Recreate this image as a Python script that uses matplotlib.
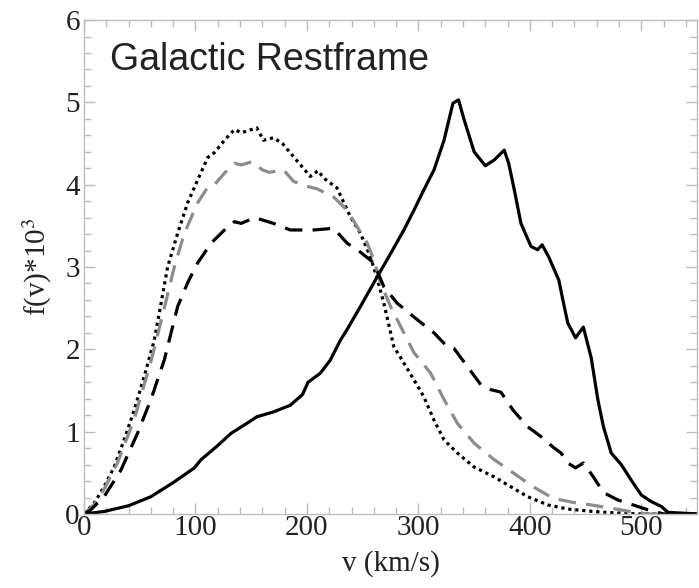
import numpy as np
import matplotlib
matplotlib.use("Agg")
import matplotlib.pyplot as plt
from matplotlib.ticker import MultipleLocator

plt.rcParams["mathtext.fontset"] = "stix"

# Speed distributions in the galactic rest frame, f(v) in units of 1e-3
v_solid = [0, 18, 40, 60, 81, 99, 105, 119, 132, 146, 155, 170, 185, 196, 201,
           212, 221, 230, 236, 248, 263, 272, 287, 296, 305, 314, 323, 331, 336,
           341, 350, 360, 368, 377, 381, 386, 392, 401, 407, 411, 417, 426, 429,
           434, 441, 448, 455, 461, 466, 473, 482, 491, 500, 509, 518, 524, 550]
f_solid = [0, 0.03, 0.10, 0.21, 0.39, 0.56, 0.66, 0.82, 0.98, 1.10, 1.18, 1.24,
           1.32, 1.45, 1.60, 1.71, 1.87, 2.11, 2.24, 2.52, 2.88, 3.09, 3.45, 3.69,
           3.94, 4.18, 4.54, 4.99, 5.03, 4.79, 4.40, 4.23, 4.30, 4.42, 4.26, 3.94,
           3.53, 3.25, 3.21, 3.27, 3.12, 2.84, 2.64, 2.32, 2.14, 2.27, 1.90, 1.39,
           1.06, 0.74, 0.60, 0.41, 0.23, 0.15, 0.09, 0.02, 0]

v_dotted = [0, 9, 18, 27, 36, 45, 54, 63, 69, 75, 84, 93, 102, 111, 117, 126,
            135, 141, 155, 161, 170, 178, 188, 203, 210, 215, 227, 239, 248, 257,
            263, 269, 278, 284, 296, 305, 314, 323, 335, 350, 368, 383, 398, 416,
            434, 457, 480, 500, 550]
f_dotted = [0, 0.13, 0.33, 0.57, 0.90, 1.26, 1.67, 2.11, 2.55, 3.00, 3.41, 3.78,
            4.06, 4.33, 4.39, 4.54, 4.67, 4.63, 4.69, 4.54, 4.57, 4.50, 4.34, 4.10,
            4.17, 4.08, 3.96, 3.61, 3.41, 3.12, 2.86, 2.56, 2.03, 1.90, 1.63, 1.42,
            1.14, 0.90, 0.74, 0.57, 0.45, 0.33, 0.21, 0.11, 0.06, 0.03, 0.01, 0, 0]

v_gray = [0, 9, 18, 30, 45, 60, 72, 81, 90, 102, 111, 117, 126, 135, 141, 151,
          160, 166, 179, 188, 200, 209, 224, 236, 245, 254, 260, 266, 275, 287,
          296, 311, 323, 335, 350, 368, 385, 403, 421, 439, 455, 473, 490, 505, 550]
f_gray = [0, 0.11, 0.30, 0.62, 1.15, 1.85, 2.50, 3.00, 3.41, 3.78, 3.97, 4.00,
          4.14, 4.26, 4.24, 4.28, 4.18, 4.15, 4.18, 4.04, 3.98, 3.95, 3.85, 3.69,
          3.49, 3.29, 3.09, 2.81, 2.52, 2.20, 1.96, 1.71, 1.39, 1.10, 0.86, 0.66,
          0.50, 0.33, 0.19, 0.14, 0.11, 0.07, 0.03, 0, 0]

v_dashed = [0, 6, 18, 33, 48, 60, 72, 84, 93, 102, 114, 126, 135, 141, 153, 170,
            185, 206, 224, 236, 248, 260, 269, 281, 299, 314, 326, 332, 344, 356,
            365, 374, 385, 398, 410, 421, 428, 434, 441, 448, 457, 466, 479, 488,
            497, 506, 520, 550]
f_dashed = [0, 0.05, 0.21, 0.53, 0.98, 1.39, 1.87, 2.52, 2.81, 3.05, 3.29, 3.45,
            3.55, 3.53, 3.60, 3.53, 3.45, 3.45, 3.47, 3.29, 3.18, 3.05, 2.76, 2.56,
            2.36, 2.20, 2.03, 2.01, 1.79, 1.57, 1.51, 1.48, 1.26, 1.06, 0.94, 0.81,
            0.74, 0.62, 0.56, 0.62, 0.45, 0.26, 0.17, 0.13, 0.09, 0.05, 0, 0]

fig = plt.figure(figsize=(6.99, 5.88), dpi=100)
ax = fig.add_axes([0.1202, 0.1259, 0.877, 0.840])

lw = 2.3
ax.plot(v_dotted, f_dotted, color="black", lw=lw, linestyle=(0, (1, 1.2)))
ax.plot(v_gray, f_gray, color="#8c8c8c", lw=lw, linestyle=(0, (5.5, 3.2)))
ax.plot(v_dashed, f_dashed, color="black", lw=lw, linestyle=(0, (5.5, 3.2)))
ax.plot(v_solid, f_solid, color="black", lw=lw)

ax.set_xlim(0, 550)
ax.set_ylim(0, 6)
ax.xaxis.set_major_locator(MultipleLocator(100))
ax.xaxis.set_minor_locator(MultipleLocator(20))
ax.yaxis.set_major_locator(MultipleLocator(1))
ax.yaxis.set_minor_locator(MultipleLocator(0.2))

for s in ax.spines.values():
    s.set_color("#bdbdbd")
    s.set_linewidth(1.0)
ax.tick_params(which="both", direction="in", top=True, right=True,
               color="#bdbdbd", width=1.0)
ax.tick_params(which="major", length=8, labelsize=21)
ax.tick_params(axis="x", which="major", pad=1)
ax.tick_params(axis="y", which="major", pad=3)
ax.tick_params(which="minor", length=5)
for lab in ax.get_xticklabels() + ax.get_yticklabels():
    lab.set_family("Liberation Serif")
    lab.set_color("#222222")

ax.set_xlabel("v (km/s)", family="Liberation Serif", fontsize=21,
              color="#222222", labelpad=6)
ax.set_ylabel(r"f(v)*10$^{3}$", family="Liberation Serif", fontsize=21,
              color="#222222", labelpad=8)

ax.text(0.042, 0.919, "Galactic Restframe", transform=ax.transAxes,
        family="Liberation Sans", fontsize=27, color="#222222",
        ha="left", va="center")

fig.savefig("out.png", dpi=100, facecolor="white")
